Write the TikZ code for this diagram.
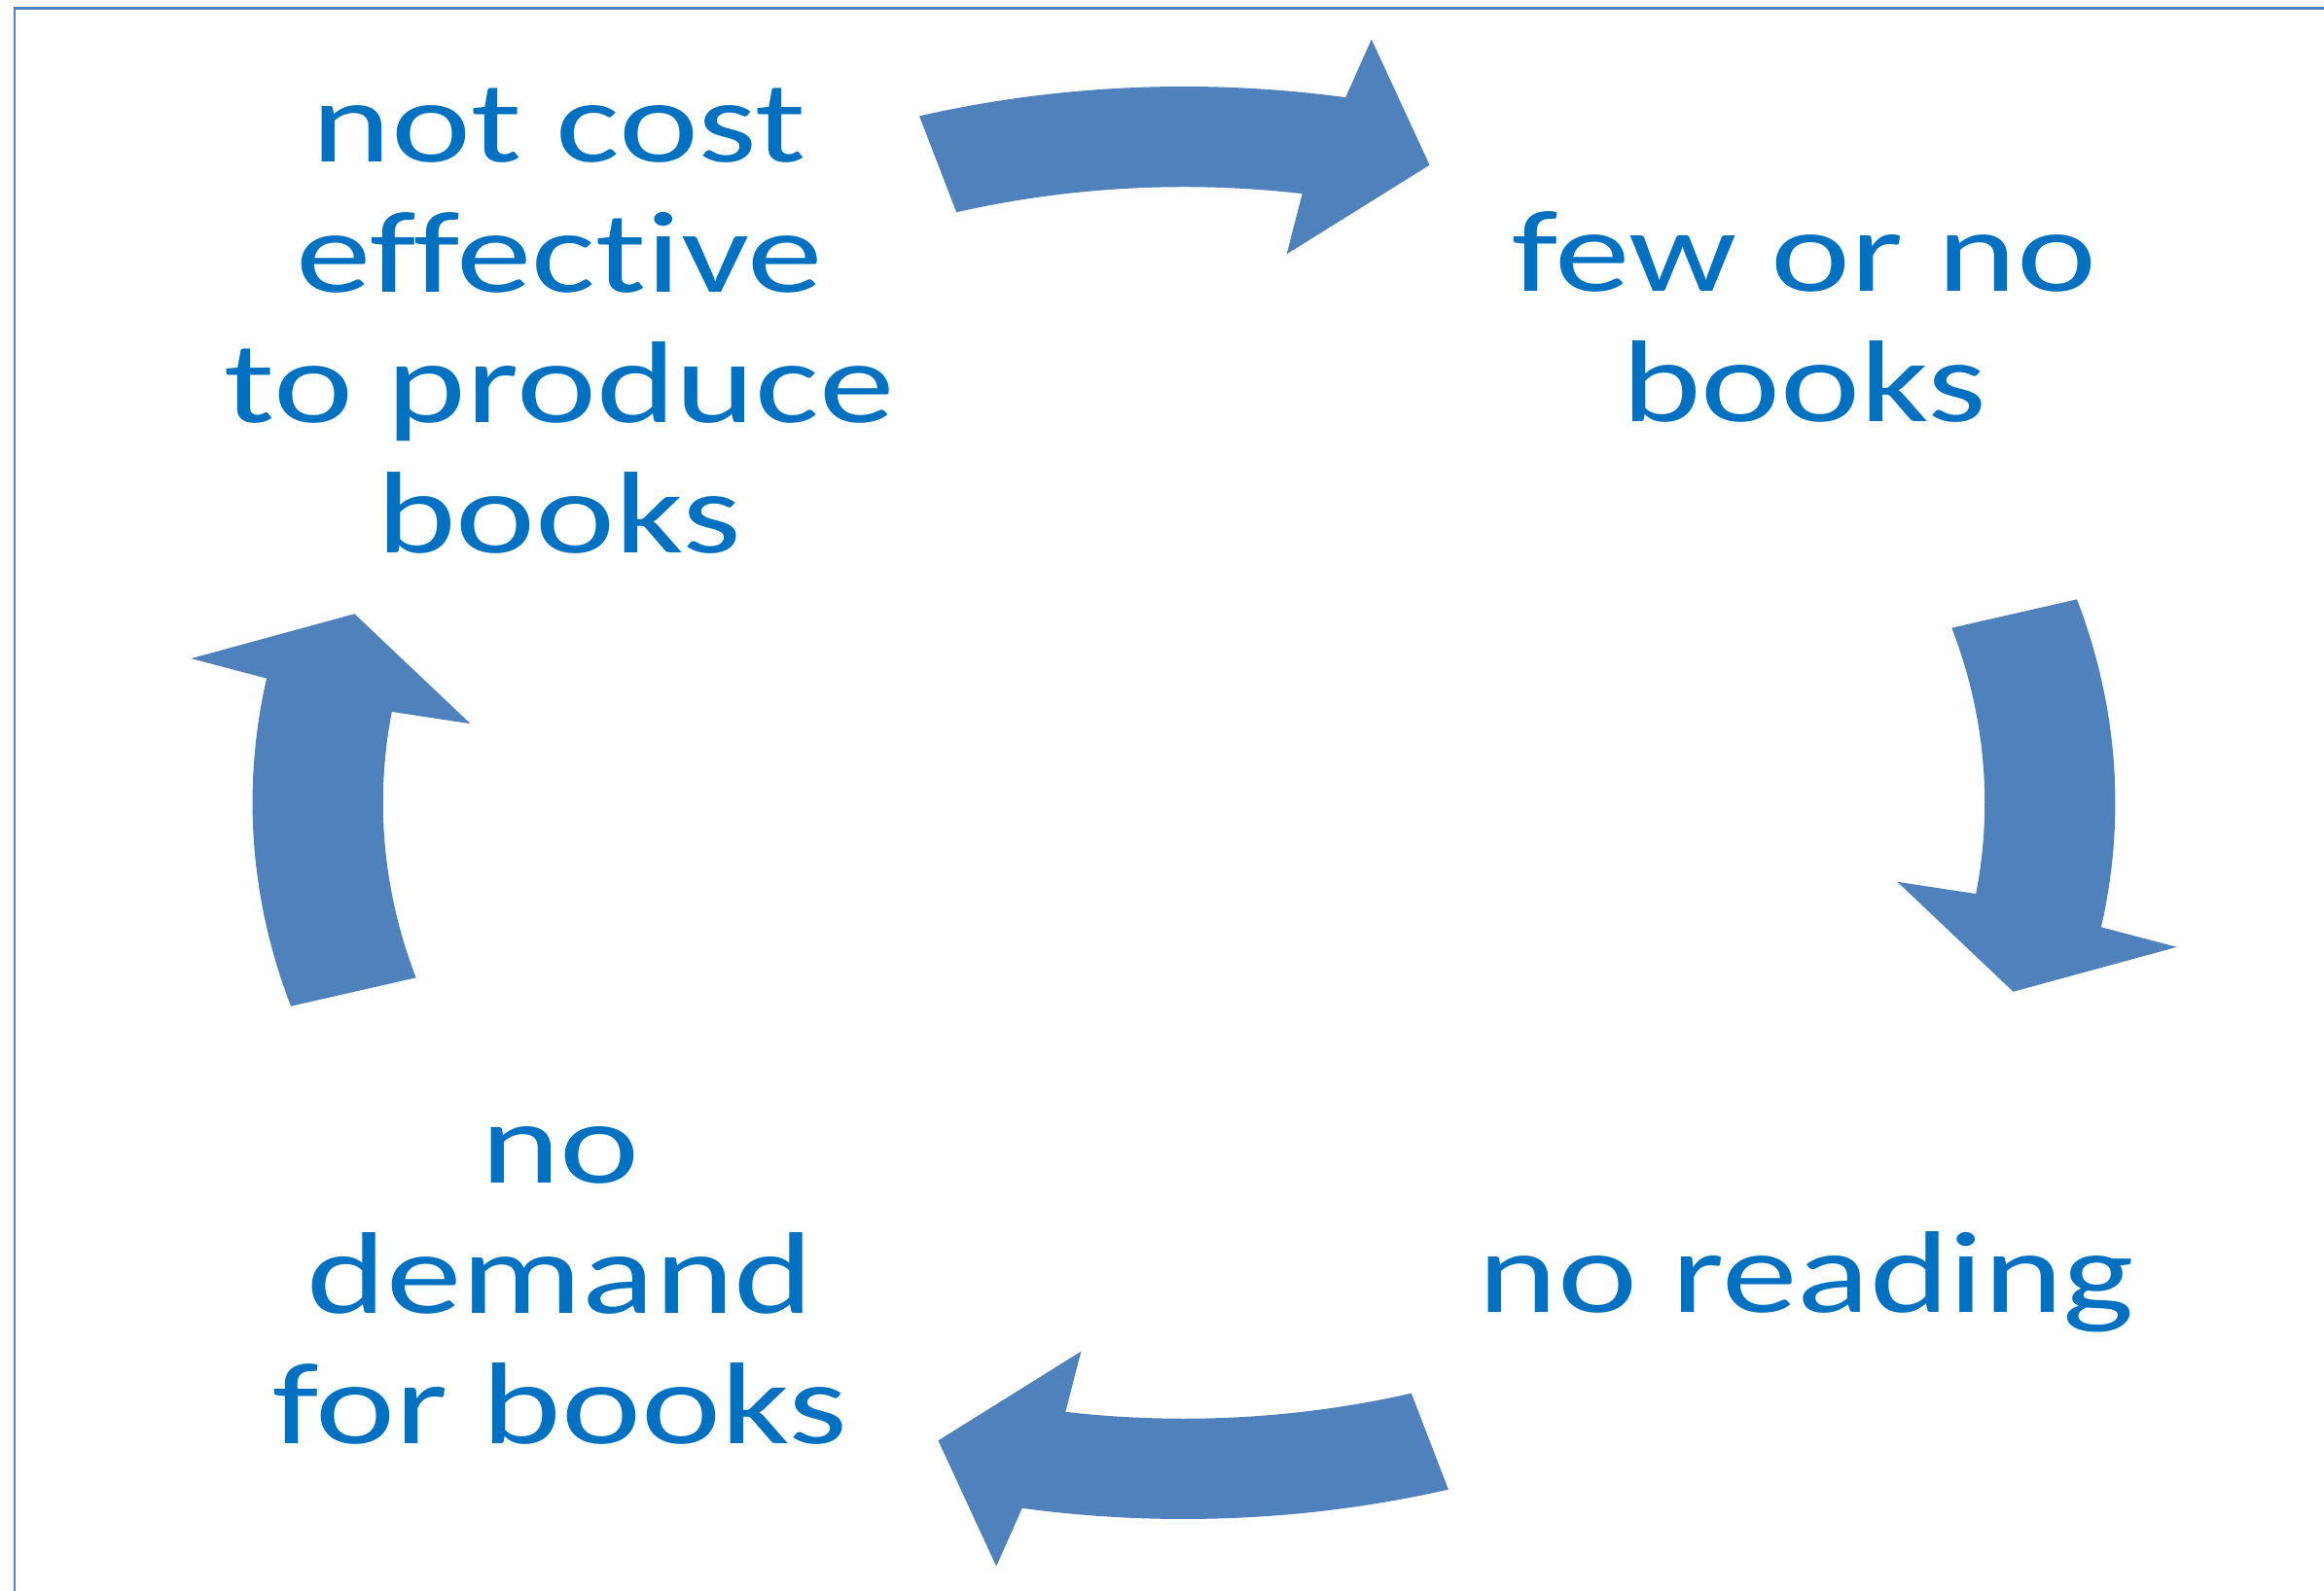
\documentclass[tikz,border=0pt]{standalone}
\usepackage{fontspec}
\newfontfamily\cyclefont[FakeStretch=1.3, Ligatures=NoCommon]{Carlito}
\definecolor{arrowblue}{HTML}{4F81BD}
\definecolor{textblue}{HTML}{0070C0}

\begin{document}
\begin{tikzpicture}[
    frame/.style={draw=arrowblue, line width=0.7pt},
    cyc/.style={fill=arrowblue},
    phase/.style={text=textblue, font=\cyclefont\fontsize{34}{38.2}\selectfont,
        align=center, anchor=base, inner sep=0pt},
]
\useasboundingbox (0,0) rectangle (23.89,16.36);

% Cornice
\draw[frame] (0.15,0) |- (23.89,16.275);

% Frecce del ciclo
\begin{scope}[shift={(12.17,8.105)}, xscale=1.3]
\fill[cyc] (106.5:7.365) arc[start angle=106.5, end angle=80, radius=7.365]
    -- (79.3:7.99) -- (73.5:6.84) -- (81.8:5.70) -- (81.5:6.333)
    arc[start angle=81.5, end angle=106.5, radius=6.333] -- cycle;
\fill[cyc] (16.5:7.365) arc[start angle=16.5, end angle=-10, radius=7.365]
    -- (-10.7:7.99) -- (-16.5:6.84) -- (-8.2:5.70) -- (-8.5:6.333)
    arc[start angle=-8.5, end angle=16.5, radius=6.333] -- cycle;
\fill[cyc] (286.5:7.365) arc[start angle=286.5, end angle=260, radius=7.365]
    -- (259.3:7.99) -- (253.5:6.84) -- (261.8:5.70) -- (261.5:6.333)
    arc[start angle=261.5, end angle=286.5, radius=6.333] -- cycle;
\fill[cyc] (196.5:7.365) arc[start angle=196.5, end angle=170, radius=7.365]
    -- (169.3:7.99) -- (163.5:6.84) -- (171.8:5.70) -- (171.5:6.333)
    arc[start angle=171.5, end angle=196.5, radius=6.333] -- cycle;
\end{scope}

% Testi (base = ultima riga)
\node[phase] (costly) at (5.75,10.67) {not cost\\effective\\to produce\\books};
\node[phase] (fewbooks) at (18.55,12.02) {few or no\\books};
\node[phase] (noreading) at (18.57,2.86) {no reading};
\node[phase] (nodemand) at (5.76,1.51) {no\\demand\\for books};

\end{tikzpicture}
\end{document}
